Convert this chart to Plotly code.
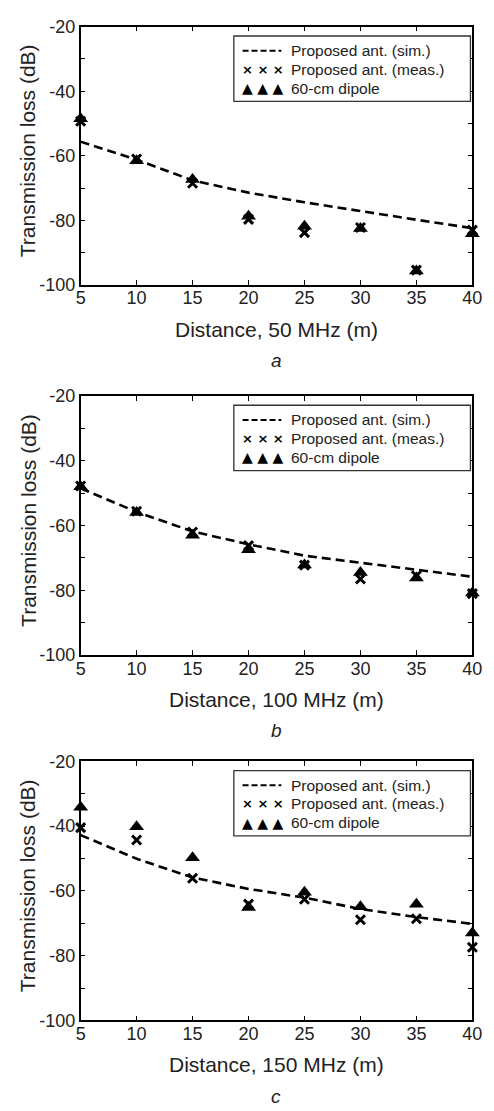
import plotly.graph_objects as go

W, H = 494, 1111

distance = [5, 10, 15, 20, 25, 30, 35, 40]

sim_50 = [-55.6, -61.2, -67.6, -71.4, -74.4, -77.2, -79.8, -82.4]
meas_50 = [-49.3, -61.0, -68.5, -79.7, -83.8, -82.2, -95.4, -83.0]
dip_50 = [-48.5, -61.5, -67.3, -78.7, -81.8, -82.5, -95.7, -84.1]

sim_100 = [-48.5, -55.8, -61.8, -65.8, -69.3, -71.5, -73.8, -75.8]
meas_100 = [-47.8, -55.6, -62.0, -66.2, -72.2, -76.5, -75.5, -81.0]
dip_100 = [-48.0, -56.0, -63.0, -67.5, -72.2, -74.5, -76.2, -80.8]

sim_150 = [-42.8, -50.1, -55.9, -59.4, -62.1, -65.6, -68.1, -70.2]
meas_150 = [-40.5, -44.3, -56.1, -64.1, -62.6, -68.9, -68.6, -77.4]
dip_150 = [-34.2, -40.2, -49.8, -65.1, -60.4, -64.9, -64.1, -73.0]

x_titles = ["Distance, 50 MHz (m)", "Distance, 100 MHz (m)", "Distance, 150 MHz (m)"]
panel_letters = ["a", "b", "c"]
legend_names = ["Proposed ant. (sim.)", "Proposed ant. (meas.)", "60-cm dipole"]
y_title = "Transmission loss (dB)"

y_tickvals = [-100, -90, -80, -70, -60, -50, -40, -30, -20]
y_ticktext = ["-100", "", "-80", "", "-60", "", "-40", "", "-20"]
x_tickvals = [5, 10, 15, 20, 25, 30, 35, 40]
x_ticktext = ["5", "10", "15", "20", "25", "30", "35", "40"]

panels = [(sim_50, meas_50, dip_50), (sim_100, meas_100, dip_100), (sim_150, meas_150, dip_150)]

# layout in pixels
LEFT, RIGHT = 78, 482
tops = [17, 393, 765]
bottoms = [280, 657, 1029]

FONT = "Liberation Sans, Arial, Helvetica, sans-serif"


def px(x):
    return x / W


def py(y):
    return 1 - y / H


fig = go.Figure()
annotations = []
shapes = []

for i, (sim, meas, dip) in enumerate(panels):
    n = i + 1
    xa = "x" if n == 1 else f"x{n}"
    ya = "y" if n == 1 else f"y{n}"
    fig.add_trace(go.Scatter(x=distance, y=sim, mode="lines", xaxis=xa, yaxis=ya,
                             line=dict(color="black", width=2.6, dash="9px,5px"),
                             showlegend=False, cliponaxis=False))
    fig.add_trace(go.Scatter(x=distance, y=dip, mode="markers", xaxis=xa, yaxis=ya,
                             marker=dict(symbol="triangle-up", size=13, color="black"),
                             showlegend=False, cliponaxis=False))
    fig.add_trace(go.Scatter(x=distance, y=meas, mode="markers", xaxis=xa, yaxis=ya,
                             marker=dict(symbol="x-thin", size=9, color="black",
                                         line=dict(color="black", width=3)),
                             showlegend=False, cliponaxis=False))

    axis_common = dict(showline=True, linecolor="black", linewidth=1.5, mirror="ticks",
                       ticks="inside", ticklen=5, tickwidth=1.2, tickcolor="black",
                       showgrid=False, zeroline=False,
                       tickfont=dict(family=FONT, size=18, color="#222"))
    xkey = "xaxis" if n == 1 else f"xaxis{n}"
    ykey = "yaxis" if n == 1 else f"yaxis{n}"
    fig.update_layout({
        xkey: dict(axis_common, domain=[px(LEFT), px(RIGHT)], range=[5, 40],
                   tickvals=x_tickvals, ticktext=x_ticktext, anchor=ya,
                   ticklabelstandoff=-4),
        ykey: dict(axis_common, domain=[py(bottoms[i]), py(tops[i])], range=[-100, -20],
                   tickvals=y_tickvals, ticktext=y_ticktext, anchor=xa),
    })

    top = tops[i]
    mid_x = (LEFT + RIGHT) / 2
    # axis titles and panel letter
    annotations.append(dict(x=px(mid_x), y=py(bottoms[i] + 45), xref="paper", yref="paper",
                            text=x_titles[i], showarrow=False, xanchor="center", yanchor="middle",
                            font=dict(family=FONT, size=21, color="#222")))
    annotations.append(dict(x=px(mid_x), y=py(bottoms[i] + 77), xref="paper", yref="paper",
                            text=f"<i>{panel_letters[i]}</i>", showarrow=False,
                            xanchor="center", yanchor="middle",
                            font=dict(family=FONT, size=19, color="#222")))
    annotations.append(dict(x=px(24), y=py((top + bottoms[i]) / 2 - 5), xref="paper", yref="paper",
                            text=y_title, showarrow=False, textangle=-90,
                            xanchor="center", yanchor="middle",
                            font=dict(family=FONT, size=21, color="#222")))

    # custom legend box
    shapes.append(dict(type="rect", xref="paper", yref="paper",
                       x0=px(236), x1=px(480), y0=py(top + 76), y1=py(top + 9.5),
                       line=dict(color="#333", width=1.3), fillcolor="white", layer="above"))
    rows = [top + 24.5, top + 43.5, top + 62.5]
    shapes.append(dict(type="line", xref="paper", yref="paper",
                       x0=px(245), x1=px(285), y0=py(rows[0]), y1=py(rows[0]),
                       line=dict(color="black", width=2, dash="6px,3px"), layer="above"))
    annotations.append(dict(x=px(266), y=py(rows[1]), xref="paper", yref="paper",
                            text="<b>× × ×</b>", showarrow=False, xanchor="center", yanchor="middle",
                            font=dict(family="DejaVu Sans", size=13, color="black")))
    annotations.append(dict(x=px(266), y=py(rows[2]), xref="paper", yref="paper",
                            text="▲ ▲ ▲", showarrow=False, xanchor="center", yanchor="middle",
                            font=dict(family="DejaVu Sans", size=14, color="black")))
    for r, name in zip(rows, legend_names):
        annotations.append(dict(x=px(293), y=py(r), xref="paper", yref="paper",
                                text=name, showarrow=False, xanchor="left", yanchor="middle",
                                font=dict(family=FONT, size=15.5, color="#222")))

fig.update_layout(width=W, height=H, margin=dict(l=0, r=0, t=0, b=0),
                  paper_bgcolor="white", plot_bgcolor="white",
                  annotations=annotations, shapes=shapes, showlegend=False)

fig.write_html("out.html")
